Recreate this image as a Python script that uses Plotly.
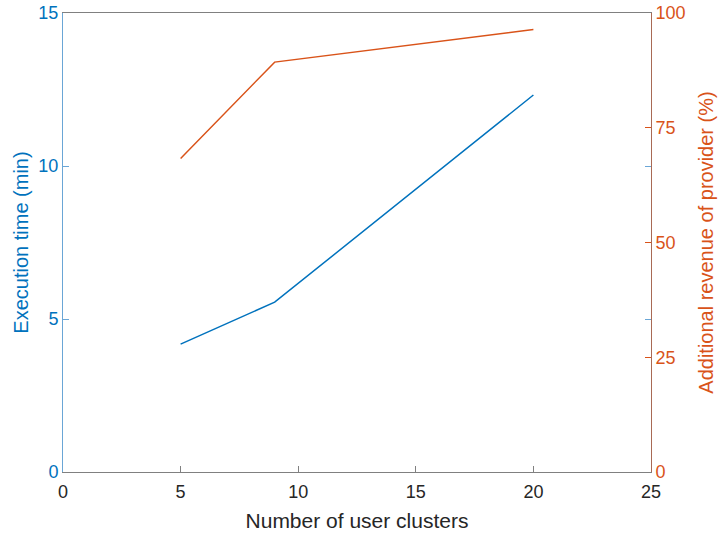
import plotly.graph_objects as go

clusters = [5, 9, 20]
exec_time = [4.18, 5.55, 12.32]
revenue = [68.3, 89.3, 96.4]

x_ticks = [0, 5, 10, 15, 20, 25]
left_ticks = [0, 5, 10, 15]
right_ticks = [0, 25, 50, 75, 100]

BLUE = "#0072BD"
ORANGE = "#D95319"
FONT = "Liberation Sans"
TICK = 18
TITLE = 20

fig = go.Figure()
fig.add_trace(go.Scatter(x=clusters, y=exec_time, mode="lines",
                         line=dict(color=BLUE, width=1.5), yaxis="y", showlegend=False))
fig.add_trace(go.Scatter(x=clusters, y=revenue, mode="lines",
                         line=dict(color=ORANGE, width=1.5), yaxis="y2", showlegend=False))
fig.add_trace(go.Scatter(x=[None], y=[None], yaxis="y3", showlegend=False, hoverinfo="skip"))

fig.update_layout(
    width=719, height=536,
    margin=dict(l=63, r=68, t=13, b=64, autoexpand=False),
    paper_bgcolor="white", plot_bgcolor="white",
    font=dict(family=FONT, size=TICK, color="#262626"),
    xaxis=dict(range=[0, 25], tickvals=x_ticks, ticks="inside", ticklen=6,
               tickcolor="#808080", showline=True, linecolor="#808080", linewidth=1,
               mirror=True, showgrid=False, zeroline=False, automargin=False,
               ticklabeloverflow="allow", ticklabelstandoff=3,
               tickfont=dict(size=TICK, color="#262626"),
               title=dict(text="Number of user clusters", font=dict(size=21, color="#262626"), standoff=12)),
    yaxis=dict(range=[0, 15], tickvals=left_ticks, ticks="inside", ticklen=6,
               tickcolor="#6aa6d6", showline=True, linecolor="#6aa6d6", linewidth=1,
               showgrid=False, zeroline=False, automargin=False, ticklabeloverflow="allow",
               tickfont=dict(size=TICK, color=BLUE),
               title=dict(text="Execution time (min)", font=dict(size=TITLE, color=BLUE), standoff=4)),
    yaxis2=dict(range=[0, 100], tickvals=right_ticks, ticks="inside", ticklen=6,
                tickcolor=ORANGE, showline=True, linecolor="#a86a55", linewidth=1,
                overlaying="y", side="right", showgrid=False, zeroline=False, automargin=False,
                ticklabeloverflow="allow",
                tickfont=dict(size=TICK, color=ORANGE),
                title=dict(text="Additional revenue of provider (%)", font=dict(size=TITLE, color=ORANGE), standoff=14)),
    yaxis3=dict(range=[0, 15], tickvals=[5, 10], ticks="inside", ticklen=6,
                tickcolor="#6aa6d6", showline=False, showticklabels=False, automargin=False,
                overlaying="y", side="right", showgrid=False, zeroline=False),
)

fig.write_html("out.html", config={"displayModeBar": False},
               post_script="document.body.style.margin='0';")
